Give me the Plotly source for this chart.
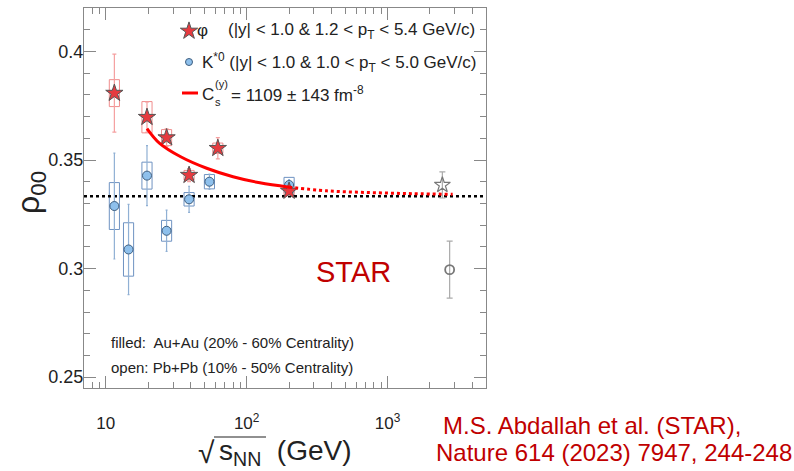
import plotly.graph_objects as go
import numpy as np

# ---- Au+Au, phi meson (|y| < 1.0, 1.2 < pT < 5.4 GeV/c) ----
phi_energy = [11.5, 19.6, 27, 39, 62.4, 200]
phi_rho00 = [0.3808, 0.3697, 0.3603, 0.3430, 0.3554, 0.3357]
phi_stat = [0.0180, 0.0070, 0.0040, 0.0030, 0.0049, 0.0020]
phi_sys = [0.0062, 0.0072, 0.0037, 0.0022, 0.0024, 0.0020]

# ---- Au+Au, K*0 meson (|y| < 1.0, 1.0 < pT < 5.0 GeV/c) ----
kstar_energy = [11.5, 14.5, 19.6, 27, 39, 54.4, 200]
kstar_rho00 = [0.3288, 0.3088, 0.3428, 0.3174, 0.3319, 0.3400, 0.3385]
kstar_stat = [0.0244, 0.0208, 0.0138, 0.0095, 0.0060, 0.0035, 0.0025]
kstar_sys = [0.0108, 0.0123, 0.0062, 0.0048, 0.0031, 0.0033, 0.0035]

# ---- Pb+Pb (open symbols) ----
pb_phi_energy = [2450]
pb_phi_rho00 = [0.3385]
pb_phi_stat = [0.0060]
pb_kstar_energy = [2760]
pb_kstar_rho00 = [0.2995]
pb_kstar_stat = [0.0131]

# ---- model curve, C_s^(y) = 1109 +- 143 fm^-8 ----
fit_energy = [19.6, 24, 34, 52, 80, 124, 200]
fit_rho00 = [0.3645, 0.3578, 0.3515, 0.3462, 0.3423, 0.3395, 0.3375]
fit_ext_energy = [200, 370, 750, 1500, 2900]
fit_ext_rho00 = [0.3375, 0.3358, 0.3350, 0.3345, 0.3342]

rho_unpolarized = 1.0 / 3.0

x_ticks = [10, 100, 1000]
x_ticktext = ["10", "10<sup>2</sup>", "10<sup>3</sup>"]
y_ticks = [0.25, 0.3, 0.35, 0.4]
y_ticktext = ["0.25", "0.3", "0.35", "0.4"]

# ---- page geometry (pixels) ----
W, H = 794, 471
L, R, T, B = 84, 486, 8, 388
FONT = "Liberation Sans, Arial, sans-serif"
RED_DARK = "#c00000"


def px(x):
    return (x - L) / (R - L)


def py(y):
    return 1 - (y - T) / (B - T)


def sys_boxes(xs, ys, es, half=0.036):
    bx, by = [], []
    for x, y, e in zip(xs, ys, es):
        lo, hi = x * 10 ** (-half), x * 10 ** half
        bx += [lo, hi, hi, lo, lo, None]
        by += [y - e, y - e, y + e, y + e, y - e, None]
    return bx, by


fig = go.Figure()

kbx, kby = sys_boxes(kstar_energy, kstar_rho00, kstar_sys)
fig.add_trace(go.Scatter(x=kbx, y=kby, mode="lines",
                         line=dict(color="#6f93c2", width=1), hoverinfo="skip"))
pbx, pby = sys_boxes(phi_energy, phi_rho00, phi_sys)
fig.add_trace(go.Scatter(x=pbx, y=pby, mode="lines",
                         line=dict(color="#f08c8c", width=1), hoverinfo="skip"))

# unpolarized reference line rho00 = 1/3
fig.add_trace(go.Scatter(x=[7, 5000], y=[rho_unpolarized] * 2, mode="lines",
                         line=dict(color="black", width=2.5, dash="dot"),
                         hoverinfo="skip"))

# K*0 points
fig.add_trace(go.Scatter(
    x=kstar_energy, y=kstar_rho00, mode="markers",
    error_y=dict(type="data", array=kstar_stat, color="#90b0d4",
                 thickness=1.2, width=1),
    marker=dict(symbol="circle", size=9, color="#8ec0ec",
                line=dict(color="#3f5f80", width=1))))

# phi points
fig.add_trace(go.Scatter(
    x=phi_energy, y=phi_rho00, mode="markers",
    error_y=dict(type="data", array=phi_stat, color="#f5a0a0",
                 thickness=1.2, width=2),
    marker=dict(symbol="star", size=13, color="#e63a3f",
                line=dict(color="#555555", width=1))))

# model curve and its extrapolation
fig.add_trace(go.Scatter(x=fit_energy, y=fit_rho00, mode="lines",
                         line=dict(color="#ff0000", width=3, shape="spline"),
                         hoverinfo="skip"))
fig.add_trace(go.Scatter(x=fit_ext_energy, y=fit_ext_rho00, mode="lines",
                         line=dict(color="#ff0000", width=3, dash="dot",
                                   shape="spline"),
                         hoverinfo="skip"))

# Pb+Pb open points
fig.add_trace(go.Scatter(
    x=pb_phi_energy, y=pb_phi_rho00, mode="markers",
    error_y=dict(type="data", array=pb_phi_stat, color="#aaaaaa",
                 thickness=1.2, width=3),
    marker=dict(symbol="star-open", size=12, color="#777777",
                line=dict(width=1.2))))
fig.add_trace(go.Scatter(
    x=pb_kstar_energy, y=pb_kstar_rho00, mode="markers",
    error_y=dict(type="data", array=pb_kstar_stat, color="#aaaaaa",
                 thickness=1.2, width=3),
    marker=dict(symbol="circle-open", size=9, color="#777777",
                line=dict(width=1.8))))

# ---- legend keys (drawn on a hidden overlay frame spanning the plot area) ----
key_kw = dict(xaxis="x2", yaxis="y2", hoverinfo="skip")
fig.add_trace(go.Scatter(x=[px(189)], y=[py(31)], mode="markers",
                         marker=dict(symbol="star", size=13, color="#e63a3f",
                                     line=dict(color="#555555", width=1)),
                         **key_kw))
fig.add_trace(go.Scatter(x=[px(189)], y=[py(62)], mode="markers",
                         marker=dict(symbol="circle", size=7, color="#8ec0ec",
                                     line=dict(color="#3f5f80", width=1)),
                         **key_kw))
fig.add_trace(go.Scatter(x=[px(182), px(198)], y=[py(93), py(93)], mode="lines",
                         line=dict(color="#ff0000", width=3), **key_kw))

tick_font = dict(family=FONT, size=18, color="#222222")
minor_x = [7, 8, 9, 20, 30, 40, 50, 60, 70, 80, 90,
           200, 300, 400, 500, 600, 700, 800, 900, 2000, 3000, 4000]

fig.update_layout(
    width=W, height=H,
    margin=dict(l=L, r=W - R, t=T, b=H - B, pad=0),
    paper_bgcolor="white", plot_bgcolor="white",
    showlegend=False,
    font=dict(family=FONT, color="#222222"),
    xaxis=dict(type="log", range=[np.log10(7), np.log10(5000)],
               tickvals=x_ticks, ticktext=x_ticktext,
               ticks="inside", ticklen=12, tickcolor="#888888", tickwidth=1,
               minor=dict(tickvals=minor_x, ticks="inside", ticklen=6,
                          tickcolor="#888888", showgrid=False),
               showline=True, linecolor="#888888", linewidth=1, mirror="ticks",
               showgrid=False, zeroline=False,
               tickfont=dict(family=FONT, size=17, color="#222222"),
               ticklabelstandoff=20),
    yaxis=dict(range=[0.245, 0.420],
               tickvals=y_ticks, ticktext=y_ticktext,
               ticks="inside", ticklen=12, tickcolor="#888888", tickwidth=1,
               minor=dict(dtick=0.01, tick0=0.25, ticks="inside", ticklen=6,
                          tickcolor="#888888", showgrid=False),
               showline=True, linecolor="#888888", linewidth=1, mirror="ticks",
               showgrid=False, zeroline=False, tickfont=tick_font,
               ticklabelstandoff=-4),
    xaxis2=dict(overlaying="x", range=[0, 1], visible=False),
    yaxis2=dict(overlaying="y", range=[0, 1], visible=False),
)

ann = []


def text(x, y, s, size, color="#222222", anchor="left", **kw):
    ann.append(dict(x=px(x), y=py(y), xref="paper", yref="paper", text=s,
                    showarrow=False, xanchor=anchor, yanchor="middle",
                    borderpad=0,
                    font=dict(family=FONT, size=size, color=color), **kw))


# legend texts
text(196, 31, "φ", 17)
text(227, 31, "(|y| < 1.0 & 1.2 < p<sub>T</sub> < 5.4 GeV/c)", 17)
text(201, 62, "K<sup>*0</sup> (|y| < 1.0 & 1.0 < p<sub>T</sub> < 5.0 GeV/c)", 17)
text(201, 94, "C", 17)
text(214, 84, "(y)", 11)
text(214, 102, "s", 11)
text(230, 94, "= 1109 ± 143 fm<sup>-8</sup>", 17)

# collision system notes
text(110, 342, "filled:  Au+Au (20% - 60% Centrality)", 15)
text(110, 367, "open: Pb+Pb (10% - 50% Centrality)", 15)

# experiment label and reference
text(353, 272, "STAR", 29, color=RED_DARK, anchor="center")
text(442, 425, "M.S. Abdallah et al. (STAR),", 24, color=RED_DARK)
text(435, 452, "Nature 614 (2023) 7947, 244-248", 24, color=RED_DARK)

# axis titles
text(216, 452, "√", 30, anchor="right")
text(218, 452, "s<sub>NN</sub>  (GeV)", 28)
text(30, 193, "ρ<sub>00</sub>", 32, anchor="center", textangle=-90)

# radical bar over s_NN
fig.add_shape(type="line", xref="paper", yref="paper",
              x0=px(214), x1=px(266), y0=py(437), y1=py(437),
              line=dict(color="#222222", width=1.2))

fig.update_layout(annotations=ann)

fig.write_html("out.html")
